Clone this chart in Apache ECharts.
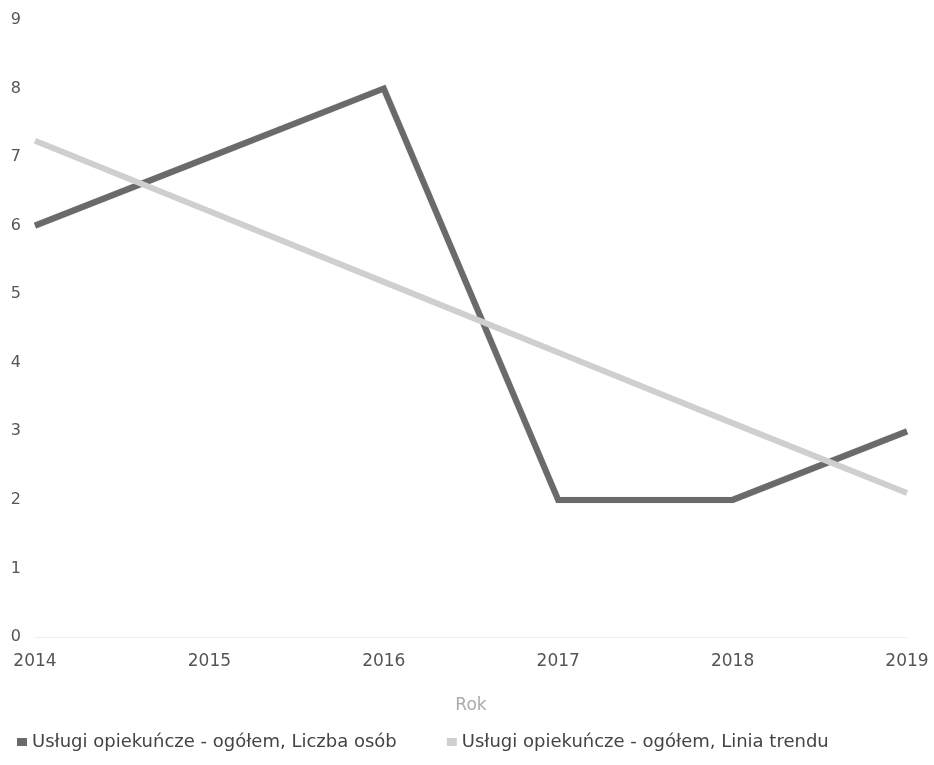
<!DOCTYPE html>
<html><head><meta charset="utf-8">
<script src="https://cdn.jsdelivr.net/npm/echarts@6/dist/echarts.min.js"></script>
<style>html,body{margin:0;padding:0;background:#fff}#c{width:934px;height:765px}</style>
</head><body><div id="c"></div>
<script>
const years = ['2014','2015','2016','2017','2018','2019'];
const liczbaOsob = [6, 7, 8, 2, 2, 3];
const liniaTrendu = [7.24, 6.21, 5.18, 4.15, 3.12, 2.1];
const yTicks = [0,1,2,3,4,5,6,7,8,9];
const seriesNames = ['Usługi opiekuńcze - ogółem, Liczba osób', 'Usługi opiekuńcze - ogółem, Linia trendu'];

const chart = echarts.init(document.getElementById('c'));
const font = '"DejaVu Sans", sans-serif';
chart.setOption({
  animation: false,
  textStyle: {fontFamily: font},
  grid: {left: 35, right: 27, top: 20, bottom: 128, containLabel: false},
  legend: {
    left: 12, bottom: 9, itemWidth: 10, itemHeight: 8, itemGap: 50, icon: 'rect',
    textStyle: {fontSize: 18, color: '#444', fontFamily: font},
    data: seriesNames
  },
  xAxis: {
    type: 'category', data: years, boundaryGap: false,
    name: 'Rok', nameLocation: 'middle', nameGap: 60,
    nameTextStyle: {fontSize: 17, color: '#aaa', fontFamily: font},
    axisLine: {show: true, lineStyle: {color: '#eee', width: 1}},
    axisTick: {show: false},
    axisLabel: {fontSize: 17, color: '#555', margin: 16, fontFamily: font}
  },
  yAxis: {
    type: 'value', min: 0, max: 9, interval: 1,
    axisLine: {show: false}, axisTick: {show: false},
    splitLine: {show: false},
    axisLabel: {fontSize: 16, color: '#555', margin: 14, fontFamily: font,
      formatter: v => yTicks.includes(v) ? String(v) : ''}
  },
  series: [
    {name: seriesNames[0], type: 'line', data: liczbaOsob, symbol: 'none',
     itemStyle: {color: '#6a6a6a'},
     lineStyle: {color: '#6a6a6a', width: 6, join: 'miter', shadowColor: 'rgba(0,0,0,0.3)', shadowBlur: 1}, z: 2},
    {name: seriesNames[1], type: 'line', data: liniaTrendu, symbol: 'none',
     itemStyle: {color: '#cfcfcf'},
     lineStyle: {color: '#cfcfcf', width: 6}, z: 3}
  ]
});
</script></body></html>
